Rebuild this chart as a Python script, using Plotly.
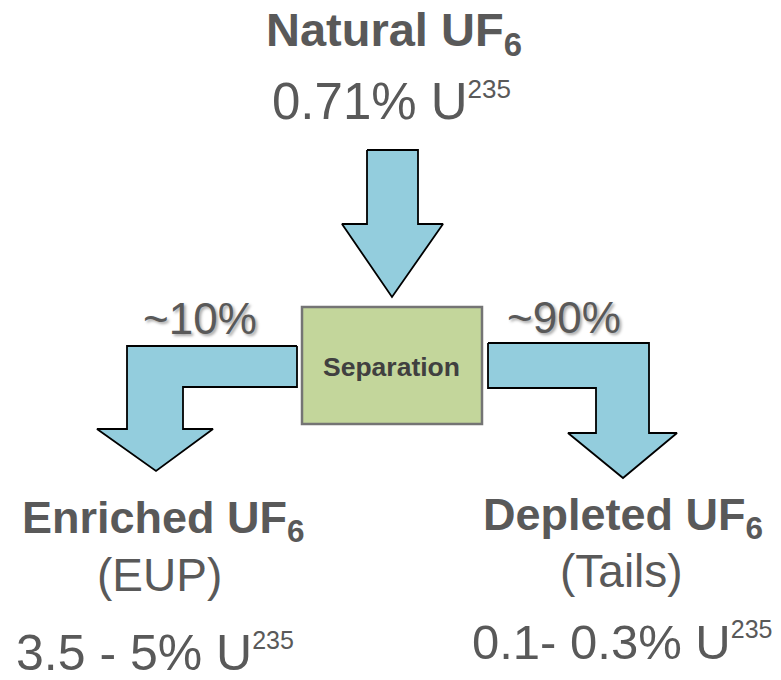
import plotly.graph_objects as go

# ---- text content ----
title_top = "Natural UF<sub>6</sub>"
assay_top = "0.71% U<sup><span style='font-size:26px'>235</span></sup>"
split_labels = ["~10%", "~90%"]
process_label = "Separation"
product_names = ["Enriched UF<sub>6</sub>", "Depleted UF<sub>6</sub>"]
product_notes = ["(EUP)", "(Tails)"]
product_assays = ["3.5 - 5% U<sup><span style='font-size:25px'>235</span></sup>",
                  "0.1- 0.3% U<sup><span style='font-size:25px'>235</span></sup>"]

# ---- diagram geometry (pixel space, y down) ----
W, H = 781, 680
arrow_top = dict(x=[367, 418, 418, 443, 392, 342, 367, 367],
                 y=[150, 150, 224, 224, 297, 224, 224, 150])
arrow_left = dict(x=[297, 297, 183, 183, 213, 156, 97, 127, 127, 297],
                  y=[346, 387, 387, 429, 429, 471, 429, 429, 346, 346])
arrow_right = dict(x=[488, 649, 649, 677, 623, 568, 596, 596, 488, 488],
                   y=[343, 343, 433, 433, 478, 433, 433, 388, 388, 343])
box = dict(x0=302, y0=307, x1=482, y1=424)

ARROW_FILL = "#93CDDD"
BOX_FILL = "#C3D69B"
TEXT = "#595959"
FONT = "Arial, Liberation Sans, sans-serif"

fig = go.Figure()
for a in (arrow_top, arrow_left, arrow_right):
    fig.add_trace(go.Scatter(x=a["x"], y=a["y"], mode="lines", fill="toself",
                             fillcolor=ARROW_FILL, line=dict(color="#000000", width=1.8),
                             hoverinfo="skip", showlegend=False))

fig.add_shape(type="rect", x0=box["x0"], y0=box["y0"], x1=box["x1"], y1=box["y1"],
              fillcolor=BOX_FILL, line=dict(color="#747474", width=2.5))


def label(text, x, y, size, bold=False, color=TEXT, shadow=None, yshift=0):
    f = dict(family=FONT, size=size, color=color, weight="bold" if bold else "normal")
    if shadow:
        f["shadow"] = shadow
    fig.add_annotation(x=x, y=y, text=text, showarrow=False, xanchor="center",
                       yanchor="middle", font=f, yshift=yshift)


label(title_top, 394, 30, 47, bold=True, yshift=-3)
label(assay_top, 391, 101, 51, yshift=0)
shadow = "2px 2px 3px rgba(0,0,0,0.35)"
label(split_labels[0], 200, 318, 44, shadow=shadow)
label(split_labels[1], 564, 317, 44, shadow=shadow)
label(process_label, 391, 367, 26.5, bold=True, color="#404040")

xs = [163, 623]
name_y = [515, 512]
note_y = [575, 571]
assay_y = [654, 645]
note_x = [159, 621]
assay_x = [155, 622]
for i in range(2):
    label(product_names[i], xs[i], name_y[i], 45, bold=True, yshift=-5)
    label(product_notes[i], note_x[i], note_y[i], 46)
label(product_assays[0], assay_x[0], assay_y[0], 50, yshift=1)
label(product_assays[1], assay_x[1], assay_y[1], 49, yshift=3)

fig.update_layout(width=W, height=H, margin=dict(l=0, r=0, t=0, b=0),
                  paper_bgcolor="white", plot_bgcolor="white",
                  xaxis=dict(range=[0, W], visible=False, fixedrange=True),
                  yaxis=dict(range=[H, 0], visible=False, fixedrange=True))

fig.write_html("out.html", config={"displayModeBar": False},
               post_script="document.body.style.margin='0';document.body.style.overflow='hidden';")
